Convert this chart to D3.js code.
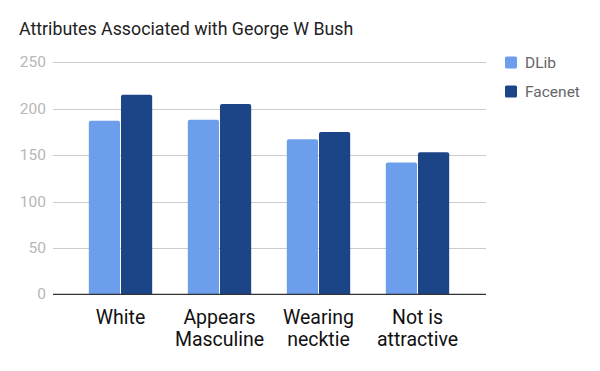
<!DOCTYPE html>
<html><head><meta charset="utf-8">
<script src="https://cdn.jsdelivr.net/npm/d3@7"></script>
<style>body{margin:0;background:#fff}svg{display:block;font-family:Roboto,sans-serif}</style>
</head><body><svg id="c" width="600" height="371"></svg>
<script>
const categories = [["White"], ["Appears", "Masculine"], ["Wearing", "necktie"], ["Not is", "attractive"]];
const seriesNames = ["DLib", "Facenet"];
const dlib = [187, 188, 167, 142];
const facenet = [215, 205, 175, 153];
const yTicks = [0, 50, 100, 150, 200, 250];
const colors = ["#6d9eeb", "#1c4587"];

const svg = d3.select("#c");
svg.append("rect").attr("width",600).attr("height",371).attr("fill","#fff");
const plotL = 53, plotR = 486, plotT = 62.3, plotB = 294.3;
const y = d3.scaleLinear().domain([0,250]).range([plotB, plotT]);
const x0 = d3.scaleBand().domain(d3.range(categories.length)).range([71, 467]).paddingInner(0.36).paddingOuter(0.18);
const x1 = d3.scaleBand().domain([0,1]).range([0, x0.bandwidth()]).paddingInner(0.03);

svg.append("text").attr("x",19).attr("y",35).attr("font-size",17.8).attr("fill","#222")
  .text("Attributes Associated with George W Bush");

const gy = svg.append("g");
gy.selectAll("line").data(yTicks.filter(d=>d>0)).join("line")
  .attr("x1",plotL).attr("x2",plotR).attr("y1",d=>Math.round(y(d))+0.5).attr("y2",d=>Math.round(y(d))+0.5)
  .attr("stroke","#cccccc").attr("stroke-width",1);
gy.selectAll("text").data(yTicks).join("text")
  .attr("x",46).attr("y",d=>y(d)+5).attr("text-anchor","end").attr("font-size",15.5).attr("fill","#b7b7b7")
  .text(d=>d);

const series = [dlib, facenet];
series.forEach((vals, si) => {
  svg.append("g").selectAll("path").data(vals).join("path")
    .attr("fill", colors[si])
    .attr("d", (d,i) => {
      const bx = x0(i) + x1(si), bw = x1.bandwidth(), top = y(d), bot = plotB, r = 2;
      return `M${bx},${bot}V${top+r}Q${bx},${top} ${bx+r},${top}H${bx+bw-r}Q${bx+bw},${top} ${bx+bw},${top+r}V${bot}Z`;
    });
});

svg.append("line").attr("x1",plotL).attr("x2",plotR).attr("y1",plotB).attr("y2",plotB)
  .attr("stroke","#333").attr("stroke-width",1.3);

const xl = svg.append("g");
categories.forEach((lines, i) => {
  const t = xl.append("text").attr("text-anchor","middle").attr("font-size",19.5).attr("fill","#111");
  lines.forEach((ln, j) => t.append("tspan").attr("x", x0(i)+x0.bandwidth()/2).attr("y", 323.5 + j*22.5).text(ln));
});

const lg = svg.append("g");
seriesNames.forEach((n, i) => {
  lg.append("rect").attr("x",505).attr("y",56.5 + i*29).attr("width",12).attr("height",12).attr("rx",1.5).attr("fill",colors[i]);
  lg.append("text").attr("x",525).attr("y",68 + i*29).attr("font-size",15.5).attr("fill","#666").text(n);
});
</script></body></html>
